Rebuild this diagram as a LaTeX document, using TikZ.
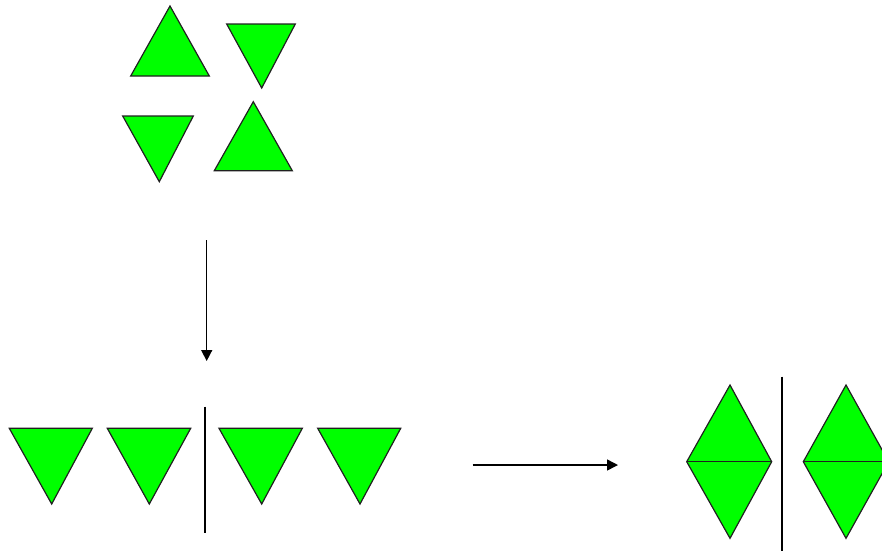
\documentclass[tikz,border=0pt]{standalone}
\usetikzlibrary{arrows.meta}
\definecolor{trigreen}{HTML}{00FF00}
\definecolor{edge}{HTML}{202020}
\begin{document}
\begin{tikzpicture}[x=1pt,y=-1pt,
  tri/.style={fill=trigreen,draw=edge,line width=1.2pt,line join=miter},
  divider/.style={draw=black,line width=2pt},
  conn/.style={draw=black,line width=1.5pt,-{Triangle[length=11pt,width=11pt]}}]
\useasboundingbox (0,0) rectangle (882,550);
\clip (0,0) rectangle (882,550);
% top group
\draw[tri] (170,6) -- (209.3,76) -- (130.7,76) -- cycle;
\draw[tri] (226.7,24) -- (295.3,24) -- (261.7,88) -- cycle;
\draw[tri] (122.7,116) -- (193.3,116) -- (159.3,181.7) -- cycle;
\draw[tri] (253.3,101.7) -- (292.3,170.7) -- (214.3,170.7) -- cycle;
% arrow down
\coordinate (a1s) at (206.7,240);
\coordinate (a1e) at (206.7,361);
\draw[conn] (a1s) -- (a1e);
% bottom-left row
\draw[tri] (9.3,428.3) -- (92.3,428.3) -- (51.7,504) -- cycle;
\draw[tri] (107.3,428.3) -- (190.7,428.3) -- (149.3,504) -- cycle;
\draw[tri] (219,428.3) -- (302.3,428.3) -- (261.7,504) -- cycle;
\draw[tri] (317.7,428.3) -- (400.7,428.3) -- (360,504) -- cycle;
\coordinate (d1t) at (205,406.7);
\coordinate (d1b) at (205,532.7);
\draw[divider] (d1t) -- (d1b);
% arrow right
\coordinate (a2s) at (472.7,465);
\coordinate (a2e) at (618,465);
\draw[conn] (a2s) -- (a2e);
% diamonds
\draw[tri] (730,385) -- (771.7,461.7) -- (730,538.3) -- (686.7,461.7) -- cycle;
\draw[tri] (686.7,461.7) -- (771.7,461.7);
\draw[tri] (846,385) -- (888.7,461.7) -- (846,538.3) -- (803.3,461.7) -- cycle;
\draw[tri] (803.3,461.7) -- (888.7,461.7);
\coordinate (d2t) at (781.7,376.7);
\coordinate (d2b) at (781.7,552);
\draw[divider] (d2t) -- (d2b);
\end{tikzpicture}
\end{document}
